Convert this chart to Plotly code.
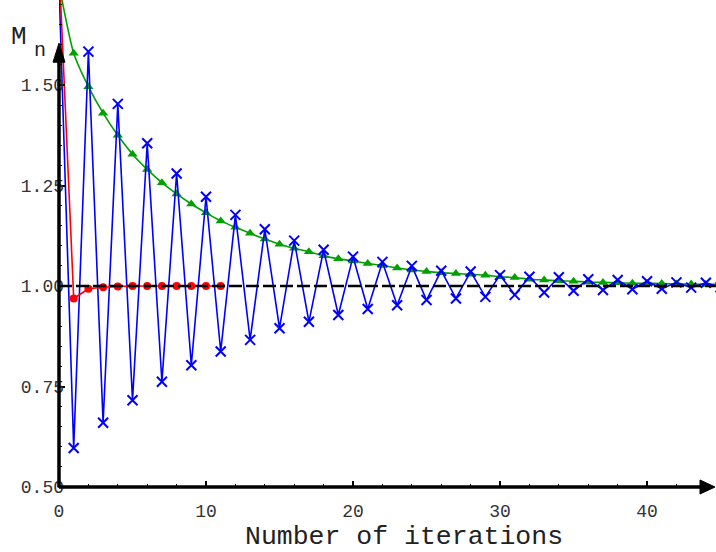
import plotly.graph_objects as go

# ---------------- data ----------------
iterations = list(range(0, 46))

blue_values = [1.75, 0.597, 1.583, 0.660, 1.453, 0.716, 1.355, 0.762, 1.280, 0.803,
               1.222, 0.837, 1.177, 0.866, 1.141, 0.895, 1.113, 0.911, 1.090, 0.928,
               1.073, 0.943, 1.060, 0.952, 1.050, 0.965, 1.038, 0.969, 1.036, 0.973,
               1.027, 0.978, 1.023, 0.984, 1.022, 0.988, 1.017, 0.990, 1.015, 0.992,
               1.012, 0.993, 1.009, 0.996, 1.008, 0.997]

green_values = [1.75, 1.579, 1.496, 1.430, 1.375, 1.328, 1.290, 1.257, 1.229, 1.204,
                1.182, 1.162, 1.146, 1.131, 1.117, 1.104, 1.094, 1.085, 1.075, 1.068,
                1.062, 1.056, 1.051, 1.045, 1.040, 1.036, 1.033, 1.031, 1.029, 1.027,
                1.023, 1.021, 1.017, 1.015, 1.013, 1.012, 1.010, 1.009, 1.008, 1.007,
                1.007, 1.006, 1.005, 1.005, 1.004, 1.004]

red_iterations = list(range(0, 12))
red_values = [1.80, 0.969, 0.993, 0.997, 0.999, 1.000, 1.000, 1.000, 1.000, 1.000, 1.000, 1.000]

limit_value = 1.0

x_ticks = [0, 10, 20, 30, 40]
y_ticks = [0.50, 0.75, 1.00, 1.25, 1.50]
y_tick_text = ["0.50", "0.75", "1.00", "1.25", "1.50"]

x_range = [0, 44.69]
y_range = [0.5, 1.7115]
y_arrow_tip = 1.604

FONT = "Liberation Mono"

fig = go.Figure()

fig.add_trace(go.Scatter(
    x=iterations, y=green_values, mode="lines+markers",
    line=dict(color="rgb(0,160,0)", width=1.6, shape="spline", smoothing=0.6),
    marker=dict(symbol="triangle-up", size=9, color="rgb(0,160,0)"),
    showlegend=False))

fig.add_trace(go.Scatter(
    x=iterations, y=blue_values, mode="lines+markers",
    line=dict(color="#0000ff", width=1.6),
    marker=dict(symbol="x-thin-open", size=10, color="#0000ff",
                line=dict(color="#0000ff", width=2)),
    showlegend=False))

# dashed limit line
fig.add_shape(type="line", xref="x", yref="y", x0=x_range[0], x1=x_range[1],
              y0=limit_value, y1=limit_value,
              line=dict(color="black", width=2.5, dash="13px,4px"), layer="above")

fig.add_trace(go.Scatter(
    x=red_iterations, y=red_values, mode="lines+markers",
    line=dict(color="#ff0000", width=1.6),
    marker=dict(symbol="circle", size=8, color="#ff0000"),
    showlegend=False))

# axes lines (paper coordinates so they are not clipped)
tip_paper = (y_arrow_tip - y_range[0]) / (y_range[1] - y_range[0])
fig.add_shape(type="line", xref="paper", yref="paper", x0=0, x1=0.985, y0=0, y1=0,
              line=dict(color="black", width=3.5))
fig.add_shape(type="line", xref="paper", yref="paper", x0=0, x1=0, y0=0, y1=tip_paper - 0.02,
              line=dict(color="black", width=3.5))
# arrowheads (pixel sized, anchored at axis ends)
fig.add_shape(type="path", xref="paper", yref="paper", xsizemode="pixel", ysizemode="pixel",
              xanchor=1, yanchor=0,
              path="M -1,0 L -16,7 L -16,-7 Z", fillcolor="black",
              line=dict(color="black", width=1))
fig.add_shape(type="path", xref="paper", yref="paper", xsizemode="pixel", ysizemode="pixel",
              xanchor=0, yanchor=tip_paper,
              path="M 0,0 L -6,-19 L 6,-19 Z", fillcolor="black",
              line=dict(color="black", width=1))

fig.add_annotation(xref="paper", yref="paper", x=0, y=1, xanchor="left", yanchor="middle",
                   text="M", showarrow=False, xshift=-50, yshift=-37,
                   font=dict(family=FONT, size=26, color="#222"))
fig.add_annotation(xref="paper", yref="paper", x=0, y=1, xanchor="left", yanchor="middle",
                   text="n", showarrow=False, xshift=-27, yshift=-50,
                   font=dict(family=FONT, size=20, color="#222"))
fig.add_annotation(xref="paper", yref="paper", x=0, y=0, xanchor="center", yanchor="middle",
                   text="Number of iterations", showarrow=False, xshift=404 - 59, yshift=-50,
                   font=dict(family=FONT, size=26.5, color="#222"))

fig.update_layout(
    width=716, height=552,
    margin=dict(l=59, r=0, t=0, b=65),
    paper_bgcolor="white", plot_bgcolor="white",
    font=dict(family=FONT, color="#333"),
    xaxis=dict(range=x_range, tickvals=x_ticks, showgrid=False, zeroline=False,
               showline=False, ticks="inside", ticklen=6, tickwidth=1.5, tickcolor="black",
               automargin=False, ticklabelstandoff=11,
               tickfont=dict(family=FONT, size=18, color="#333"),
               minor=dict(dtick=2, ticks="inside", ticklen=3, tickwidth=1, tickcolor="black")),
    yaxis=dict(range=y_range, tickvals=y_ticks, ticktext=y_tick_text, showgrid=False,
               zeroline=False, showline=False, ticks="inside", ticklen=6, tickwidth=1.5,
               tickcolor="black", ticklabelstandoff=-6, automargin=False,
               tickfont=dict(family=FONT, size=18, color="#333"),
               minor=dict(dtick=0.05, ticks="inside", ticklen=3, tickwidth=1, tickcolor="black")),
)

fig.write_html("out.html", config={"displayModeBar": False},
               post_script="document.body.style.margin='0';")
